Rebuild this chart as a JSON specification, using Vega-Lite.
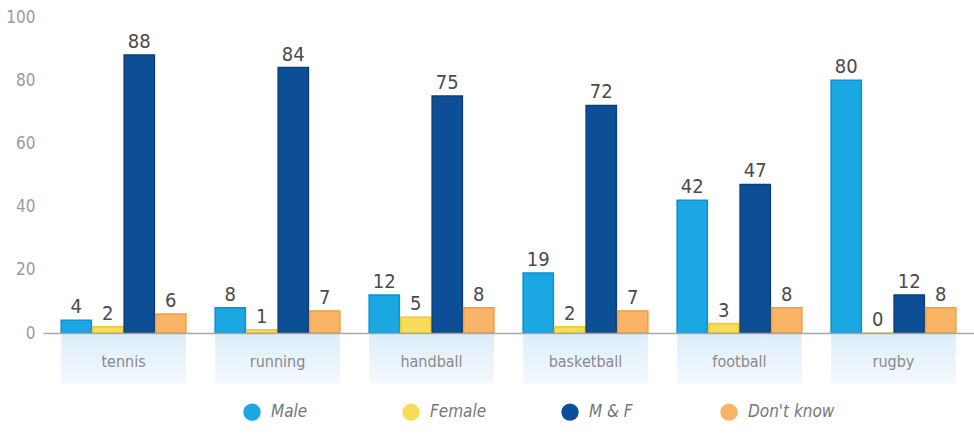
{
  "$schema": "https://vega.github.io/schema/vega-lite/v6.json",
  "width": 931,
  "height": 316,
  "autosize": {"type": "none"},
  "padding": {"left": 43, "top": 17, "right": 0, "bottom": 101},
  "background": "white",
  "config": {
    "view": {"stroke": null},
    "font": "DejaVu Sans Condensed, sans-serif"
  },
  "datasets": {
    "bars": [
      {"sport": "tennis", "group": "Male", "value": 4},
      {"sport": "tennis", "group": "Female", "value": 2},
      {"sport": "tennis", "group": "M & F", "value": 88},
      {"sport": "tennis", "group": "Don't know", "value": 6},
      {"sport": "running", "group": "Male", "value": 8},
      {"sport": "running", "group": "Female", "value": 1},
      {"sport": "running", "group": "M & F", "value": 84},
      {"sport": "running", "group": "Don't know", "value": 7},
      {"sport": "handball", "group": "Male", "value": 12},
      {"sport": "handball", "group": "Female", "value": 5},
      {"sport": "handball", "group": "M & F", "value": 75},
      {"sport": "handball", "group": "Don't know", "value": 8},
      {"sport": "basketball", "group": "Male", "value": 19},
      {"sport": "basketball", "group": "Female", "value": 2},
      {"sport": "basketball", "group": "M & F", "value": 72},
      {"sport": "basketball", "group": "Don't know", "value": 7},
      {"sport": "football", "group": "Male", "value": 42},
      {"sport": "football", "group": "Female", "value": 3},
      {"sport": "football", "group": "M & F", "value": 47},
      {"sport": "football", "group": "Don't know", "value": 8},
      {"sport": "rugby", "group": "Male", "value": 80},
      {"sport": "rugby", "group": "Female", "value": 0},
      {"sport": "rugby", "group": "M & F", "value": 12},
      {"sport": "rugby", "group": "Don't know", "value": 8}
    ],
    "bands": [
      {"sport": "tennis"}, {"sport": "running"}, {"sport": "handball"},
      {"sport": "basketball"}, {"sport": "football"}, {"sport": "rugby"}
    ]
  },
  "layer": [
    {
      "data": {"name": "bands"},
      "mark": {
        "type": "rect",
        "clip": false,
        "color": {
          "gradient": "linear", "x1": 0, "y1": 0, "x2": 0, "y2": 1,
          "stops": [
            {"offset": 0, "color": "#dcedf8"},
            {"offset": 1, "color": "#f4f9fd"}
          ]
        }
      },
      "encoding": {
        "x": {
          "field": "sport", "type": "nominal",
          "sort": ["tennis", "running", "handball", "basketball", "football", "rugby"],
          "scale": {"paddingInner": 0.19, "paddingOuter": 0.118},
          "axis": {
            "title": null, "ticks": false, "labelAngle": 0, "labelPadding": 20,
            "labelColor": "#8a8a8a", "labelFontSize": 16, "domainColor": "#a8a8a8",
            "domainWidth": 1.5, "zindex": 2
          }
        },
        "y": {
          "datum": 0, "type": "quantitative",
          "scale": {"domain": [0, 100]},
          "axis": {
            "title": null, "values": [0, 20, 40, 60, 80, 100], "domain": false,
            "ticks": false, "labelColor": "#9a9a9a", "labelFontSize": 17,
            "labelPadding": 8, "gridColor": "#dedede", "gridWidth": 1.5
          }
        },
        "y2": {"datum": -16}
      }
    },
    {
      "data": {"name": "bars"},
      "mark": {"type": "bar", "strokeWidth": 1.5},
      "encoding": {
        "x": {"field": "sport", "type": "nominal", "sort": ["tennis", "running", "handball", "basketball", "football", "rugby"]},
        "xOffset": {"field": "group", "type": "nominal", "sort": ["Male", "Female", "M & F", "Don't know"], "scale": {"paddingInner": 0.04}},
        "y": {"field": "value", "type": "quantitative"},
        "color": {
          "field": "group", "type": "nominal",
          "sort": ["Male", "Female", "M & F", "Don't know"],
          "scale": {"domain": ["Male", "Female", "M & F", "Don't know"], "range": ["#1aa7e2", "#f7dc5a", "#0d4f96", "#f9b465"]},
          "legend": {
            "title": null, "orient": "none", "direction": "horizontal",
            "legendX": 200, "legendY": 386, "symbolType": "circle", "symbolSize": 300,
            "symbolStrokeWidth": 0, "labelFontSize": 17, "labelFontStyle": "italic",
            "labelColor": "#777777", "columns": 4, "gridAlign": "all",
            "columnPadding": 44, "labelOffset": 10
          }
        },
        "stroke": {
          "field": "group", "type": "nominal",
          "scale": {"domain": ["Male", "Female", "M & F", "Don't know"], "range": ["#0e90d0", "#ecc836", "#0a3d7a", "#f19d3f"]},
          "legend": null
        }
      }
    },
    {
      "data": {"name": "bars"},
      "mark": {"type": "text", "baseline": "bottom", "dy": -3, "fontSize": 20, "color": "#4a4a4a"},
      "encoding": {
        "x": {"field": "sport", "type": "nominal", "sort": ["tennis", "running", "handball", "basketball", "football", "rugby"]},
        "xOffset": {"field": "group", "type": "nominal", "sort": ["Male", "Female", "M & F", "Don't know"]},
        "y": {"field": "value", "type": "quantitative"},
        "text": {"field": "value", "type": "quantitative"}
      }
    }
  ]
}
